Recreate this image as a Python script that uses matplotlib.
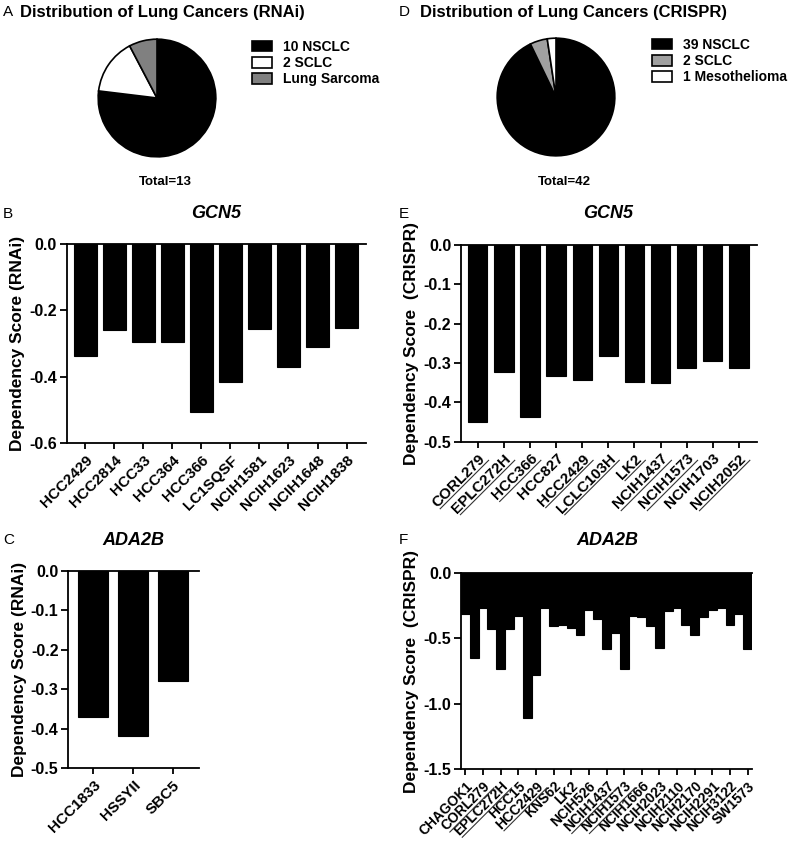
import numpy as np
import matplotlib
matplotlib.use('Agg')
import matplotlib.pyplot as plt
from matplotlib.lines import Line2D
from matplotlib.ticker import FormatStrFormatter, MultipleLocator
from matplotlib.transforms import IdentityTransform

plt.rcParams['font.family'] = ['Liberation Sans', 'DejaVu Sans']
plt.rcParams['axes.unicode_minus'] = False

# pie data
rnai_pie_labels = ['10 NSCLC', '2 SCLC', 'Lung Sarcoma']
rnai_pie_counts = [10, 2, 1]
rnai_pie_colors = ['black', 'white', '#808080']
crispr_pie_labels = ['39 NSCLC', '2 SCLC', '1 Mesothelioma']
crispr_pie_counts = [39, 2, 1]
crispr_pie_colors = ['black', '#a0a0a0', 'white']

# GCN5 dependency scores
gcn5_rnai_lines = ['HCC2429', 'HCC2814', 'HCC33', 'HCC364', 'HCC366', 'LC1SQSF',
                   'NCIH1581', 'NCIH1623', 'NCIH1648', 'NCIH1838']
gcn5_rnai_scores = [-0.336, -0.259, -0.296, -0.296, -0.505, -0.416, -0.256, -0.369, -0.309, -0.252]

gcn5_crispr_lines = ['CORL279', 'EPLC272H', 'HCC366', 'HCC827', 'HCC2429', 'LCLC103H',
                     'LK2', 'NCIH1437', 'NCIH1573', 'NCIH1703', 'NCIH2052']
gcn5_crispr_scores = [-0.449, -0.324, -0.436, -0.332, -0.343, -0.281, -0.349, -0.352, -0.312, -0.295, -0.312]
gcn5_crispr_underlined = ['CORL279', 'EPLC272H', 'HCC366', 'HCC2429', 'LCLC103H', 'LK2',
                          'NCIH1437', 'NCIH1573', 'NCIH2052']

# ADA2B dependency scores
ada2b_rnai_lines = ['HCC1833', 'HSSYII', 'SBC5']
ada2b_rnai_scores = [-0.369, -0.417, -0.280]

# 33 bars, only every other one is labelled
ada2b_crispr_scores = [-0.31, -0.65, -0.27, -0.43, -0.73, -0.43, -0.33, -1.11, -0.78, -0.265,
                       -0.405, -0.40, -0.42, -0.47, -0.28, -0.35, -0.58, -0.46, -0.73, -0.33,
                       -0.34, -0.405, -0.57, -0.29, -0.265, -0.40, -0.47, -0.34, -0.28, -0.265,
                       -0.40, -0.31, -0.58]
ada2b_crispr_labels = ['CHAGOK1', 'CORL279', 'EPLC272H', 'HCC15', 'HCC2429', 'KNS62', 'LK2',
                       'NCIH526', 'NCIH1437', 'NCIH1573', 'NCIH1666', 'NCIH2023', 'NCIH2110',
                       'NCIH2170', 'NCIH2291', 'NCIH3122', 'SW1573']
ada2b_crispr_underlined = ['CORL279', 'EPLC272H', 'HCC2429', 'NCIH1437', 'NCIH1573']

W, H = 793, 846
fig = plt.figure(figsize=(W / 100, H / 100), dpi=100)


def px_axes(x0, y0, x1, y1):
    return fig.add_axes([x0 / W, 1 - y1 / H, (x1 - x0) / W, (y1 - y0) / H])


def ftext(x, y, s, **kw):
    fig.text(x / W, 1 - y / H, s, **kw)


def pie_panel(box, counts, colors, labels, leg_xy, total):
    ax = px_axes(*box)
    wedges, _ = ax.pie(counts, colors=colors, startangle=90, counterclock=False,
                       wedgeprops=dict(edgecolor='black', linewidth=1.2))
    ax.set_xlim(-1.02, 1.02)
    ax.set_ylim(-1.02, 1.02)
    ax.legend(wedges, labels, loc='upper left',
              bbox_to_anchor=(leg_xy[0] / W, 1 - leg_xy[1] / H), bbox_transform=fig.transFigure,
              frameon=False, borderpad=0, borderaxespad=0, handlelength=1.45, handleheight=0.8,
              handletextpad=0.75, labelspacing=0.15, prop=dict(weight='bold', size=10))
    cx = (box[0] + box[2]) / 2
    ftext(cx + 8, 182, total, ha='center', va='center', fontsize=9.5, fontweight='bold')


def bar_panel(box, names, scores, width, ylim, step, xlim, ylabel, fs=11, tick_idx=None):
    ax = px_axes(*box)
    x = np.arange(len(scores))
    ax.bar(x, scores, width=width, color='black', edgecolor='black', linewidth=0.8)
    ax.set_ylim(*ylim)
    ax.set_xlim(*xlim)
    ax.yaxis.set_major_locator(MultipleLocator(step))
    ax.yaxis.set_major_formatter(FormatStrFormatter('%.1f'))
    if tick_idx is None:
        tick_idx = x
    ax.set_xticks(tick_idx)
    ax.set_xticklabels(names, rotation=45, ha='right', va='top', rotation_mode='anchor',
                       fontsize=fs, fontweight='bold')
    ax.spines['right'].set_visible(False)
    for sp in ['left', 'top', 'bottom']:
        ax.spines[sp].set_linewidth(1.3)
    ax.tick_params(axis='y', length=5, width=1.3, pad=2, labelsize=11.5)
    ax.tick_params(axis='x', length=4, width=1.3, pad=3, top=False)
    for t in ax.get_yticklabels():
        t.set_fontweight('bold')
    ax.set_ylabel(ylabel, fontsize=12.5, fontweight='bold', labelpad=3)
    return ax


def underline(ax, names):
    r = fig.canvas.get_renderer()
    c = np.sqrt(0.5)
    for lab in ax.get_xticklabels():
        if lab.get_text() not in names:
            continue
        lab.set_rotation(0)
        bb0 = lab.get_window_extent(r)
        lab.set_rotation(45)
        bb = lab.get_window_extent(r)
        w, h = bb0.width, bb0.height
        blx, bly = bb.x0 + h * c + 1, bb.y0 + 1
        fig.add_artist(Line2D([blx, blx + w * c], [bly, bly + w * c], color='#333333',
                              linewidth=0.8, transform=IdentityTransform()))


# titles and panel letters
ftext(3, 12, 'A', ha='left', va='center', fontsize=11)
ftext(20, 12, 'Distribution of Lung Cancers (RNAi)', ha='left', va='center', fontsize=12, fontweight='bold')
ftext(399, 12, 'D', ha='left', va='center', fontsize=11)
ftext(420, 12, 'Distribution of Lung Cancers (CRISPR)', ha='left', va='center', fontsize=12, fontweight='bold')
ftext(3, 214, 'B', ha='left', va='center', fontsize=11)
ftext(216, 214, 'GCN5', ha='center', va='center', fontsize=13, fontweight='bold', style='italic')
ftext(399, 214, 'E', ha='left', va='center', fontsize=11)
ftext(608, 214, 'GCN5', ha='center', va='center', fontsize=13, fontweight='bold', style='italic')
ftext(3, 540, 'C', ha='left', va='center', fontsize=11)
ftext(133, 540, 'ADA2B', ha='center', va='center', fontsize=13, fontweight='bold', style='italic')
ftext(399, 540, 'F', ha='left', va='center', fontsize=11)
ftext(607, 540, 'ADA2B', ha='center', va='center', fontsize=13, fontweight='bold', style='italic')

pie_panel((97, 38, 217, 158), rnai_pie_counts, rnai_pie_colors, rnai_pie_labels, (252, 40), 'Total=13')
pie_panel((496, 37, 616, 157), crispr_pie_counts, crispr_pie_colors, crispr_pie_labels, (652, 38), 'Total=42')

axB = bar_panel((66.7, 244, 366, 443.3), gcn5_rnai_lines, gcn5_rnai_scores, 0.78, (-0.6, 0), 0.2,
                (-0.64, 9.67), 'Dependency Score (RNAi)')
axE = bar_panel((461, 245, 756.7, 441.7), gcn5_crispr_lines, gcn5_crispr_scores, 0.74, (-0.5, 0), 0.1,
                (-0.64, 10.68), 'Dependency Score  (CRISPR)')
axC = bar_panel((68.3, 571, 199, 768.3), ada2b_rnai_lines, ada2b_rnai_scores, 0.76, (-0.5, 0), 0.1,
                (-0.63, 2.66), 'Dependency Score (RNAi)')
axF = bar_panel((461, 573, 752, 769.3), ada2b_crispr_labels, ada2b_crispr_scores, 1.0, (-1.5, 0), 0.5,
                (-0.5, 32.5), 'Dependency Score  (CRISPR)', fs=10,
                tick_idx=np.arange(0, len(ada2b_crispr_scores), 2))

fig.canvas.draw()
underline(axE, gcn5_crispr_underlined)
underline(axF, ada2b_crispr_underlined)

fig.savefig('out.png', dpi=100)
